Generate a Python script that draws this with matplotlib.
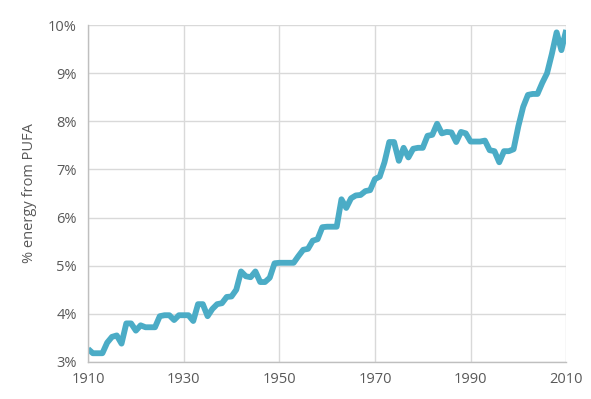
import matplotlib.pyplot as plt
from matplotlib.ticker import FuncFormatter

# Yearly share of energy from PUFA (%)
years = list(range(1910, 2011))
pufa = [3.27, 3.18, 3.18, 3.18, 3.40, 3.52, 3.55, 3.38, 3.80, 3.80,
        3.65, 3.76, 3.72, 3.72, 3.72, 3.95, 3.97, 3.97, 3.87, 3.97,
        3.97, 3.97, 3.85, 4.20, 4.20, 3.95, 4.10, 4.20, 4.22, 4.35,
        4.36, 4.50, 4.88, 4.78, 4.76, 4.88, 4.66, 4.66, 4.75, 5.05,
        5.06, 5.06, 5.06, 5.06, 5.20, 5.33, 5.35, 5.52, 5.55, 5.80,
        5.81, 5.81, 5.81, 6.38, 6.20, 6.40, 6.46, 6.47, 6.55, 6.57,
        6.80, 6.85, 7.15, 7.57, 7.57, 7.18, 7.45, 7.25, 7.43, 7.45,
        7.45, 7.70, 7.72, 7.95, 7.75, 7.78, 7.77, 7.57, 7.78, 7.75,
        7.58, 7.58, 7.58, 7.60, 7.40, 7.38, 7.15, 7.38, 7.38, 7.42,
        7.90, 8.30, 8.55, 8.57, 8.57, 8.80, 9.00, 9.40, 9.85, 9.48,
        9.90]
x_ticks = [1910, 1930, 1950, 1970, 1990, 2010]
y_ticks = [3, 4, 5, 6, 7, 8, 9, 10]

plt.rcParams['font.family'] = ['Open Sans', 'DejaVu Sans']
text_color = '#595959'

fig = plt.figure(figsize=(5.91, 3.99), dpi=100)
ax = fig.add_axes([0.149, 0.093, 0.809, 0.844])

ax.plot(years, pufa, color='#4BACC6', linewidth=4.2,
        solid_joinstyle='round', solid_capstyle='butt')

ax.set_xlim(1910, 2010)
ax.set_ylim(3, 10)
ax.set_xticks(x_ticks)
ax.set_yticks(y_ticks)
ax.yaxis.set_major_formatter(FuncFormatter(lambda v, _: f'{v:.0f}%'))

ax.grid(True, color='#D9D9D9', linewidth=1.0)
ax.set_axisbelow(True)
for side in ['top', 'right']:
    ax.spines[side].set_visible(False)
for side in ['left', 'bottom']:
    ax.spines[side].set_color('#BFBFBF')
    ax.spines[side].set_linewidth(1.0)

ax.tick_params(length=0, colors=text_color, labelsize=10.5)
ax.tick_params(axis='x', pad=7)
ax.tick_params(axis='y', pad=8)
ax.set_ylabel('% energy from PUFA', color=text_color, fontsize=10.5, labelpad=8)

fig.savefig('out.png', dpi=100)
